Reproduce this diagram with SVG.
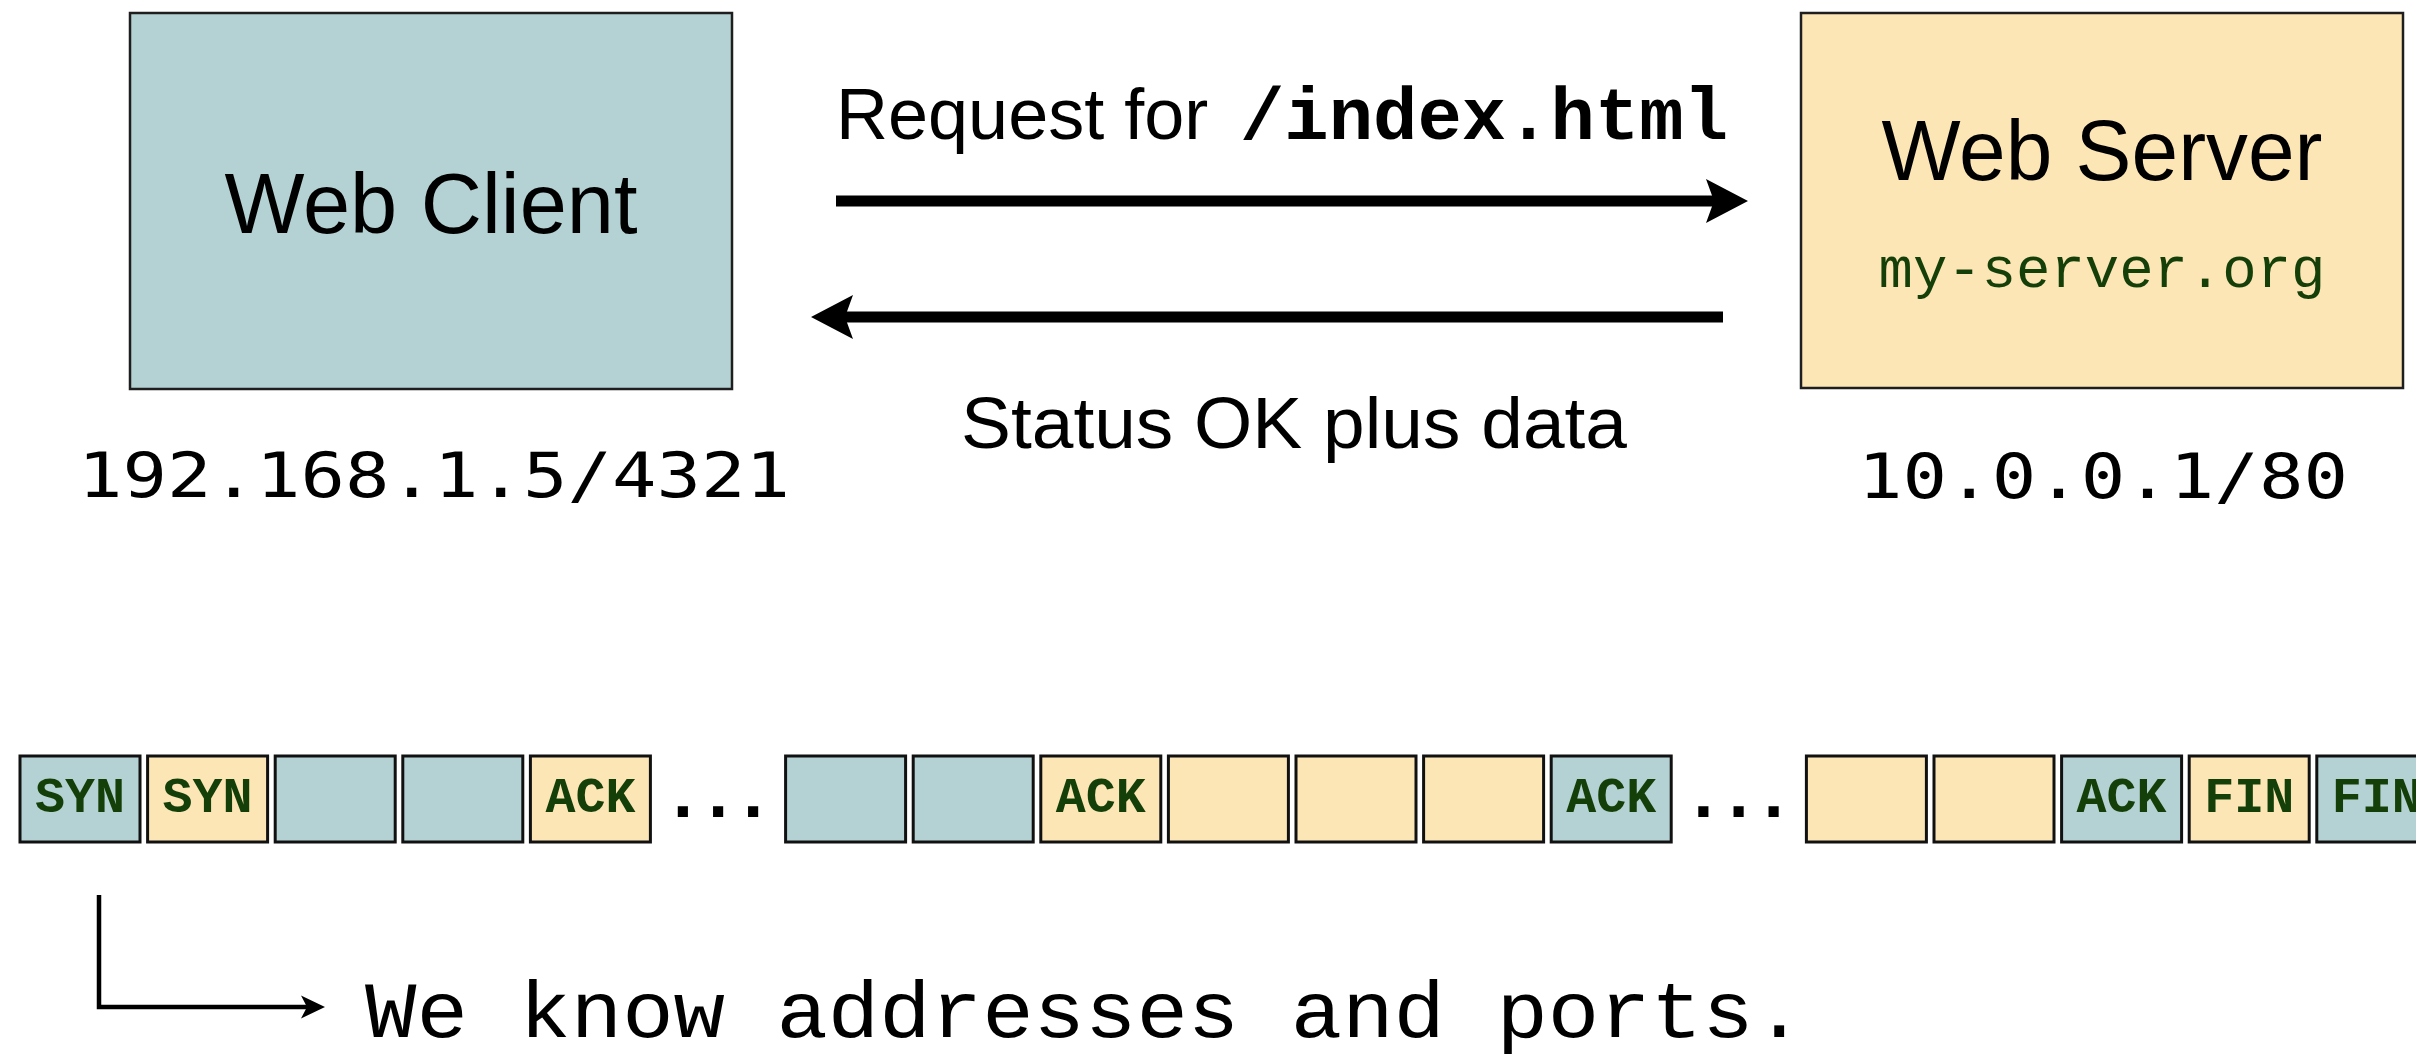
<svg xmlns="http://www.w3.org/2000/svg" width="2416" height="1057" viewBox="0 0 2416 1057">
<style>
  .blue { fill: #b4d2d3; }
  .yellow { fill: #fde6b5; }
  .box { stroke: #1e1e1e; stroke-width: 2.5; }
  .pkt { stroke: #111; stroke-width: 3; }
  .sans { font-family: "Liberation Sans", Arial, sans-serif; fill: #000; }
  .mono { font-family: "DejaVu Sans Mono", monospace; fill: #000; }
  .cour { font-family: "Liberation Mono", "Courier New", monospace; }
  .lbl { font-family: "Liberation Mono", "Courier New", monospace; font-weight: bold; font-size: 50px; fill: #143f08; text-anchor: middle; }
  .dots { font-family: "Liberation Mono", "Courier New", monospace; font-weight: bold; font-size: 72px; letter-spacing: -8px; fill: #000; text-anchor: middle; }
  .conn { stroke: #000; fill: none; }
</style>
<defs>
  <marker id="head" markerUnits="userSpaceOnUse" markerWidth="42" markerHeight="44" viewBox="0 0 42 44" refX="14" refY="22" orient="auto">
    <path d="M0,0 L42,22 L0,44 L8,22 Z" fill="#000"/>
  </marker>
  <marker id="headSmall" markerUnits="userSpaceOnUse" markerWidth="24" markerHeight="24" viewBox="0 0 24 24" refX="8" refY="12" orient="auto">
    <path d="M0,0.5 L24,12 L0,23.5 L6,12 Z" fill="#000"/>
  </marker>
</defs>
<rect width="2416" height="1057" fill="#fff"/>

<g id="web-client">
  <rect class="blue box" x="130" y="13" width="602" height="376"/>
  <text class="sans" x="431" y="233" font-size="86" text-anchor="middle" textLength="413" lengthAdjust="spacingAndGlyphs">Web Client</text>
  <text class="mono" x="434" y="497" font-size="63" text-anchor="middle" textLength="712" lengthAdjust="spacingAndGlyphs">192.168.1.5/4321</text>
</g>

<g id="web-server">
  <rect class="yellow box" x="1801" y="13" width="602" height="375"/>
  <text class="sans" x="2102" y="180" font-size="86" text-anchor="middle" textLength="441" lengthAdjust="spacingAndGlyphs">Web Server</text>
  <text class="cour" x="2102" y="287" font-size="58" fill="#143f08" text-anchor="middle" textLength="447" lengthAdjust="spacingAndGlyphs">my-server.org</text>
  <text class="mono" x="2103" y="498" font-size="63" text-anchor="middle" textLength="490" lengthAdjust="spacingAndGlyphs">10.0.0.1/80</text>
</g>

<g id="connectors">
  <line class="conn" x1="836" y1="201" x2="1720" y2="201" stroke-width="11" marker-end="url(#head)"/>
  <line class="conn" x1="1723" y1="317" x2="839" y2="317" stroke-width="11" marker-end="url(#head)"/>
  <text class="sans" x="836" y="139" font-size="72">Request for <tspan x="1240" font-family="Liberation Mono, Courier New, monospace" font-weight="bold" font-size="74" textLength="488" lengthAdjust="spacingAndGlyphs">/index.html</tspan></text>
  <text class="sans" x="1294" y="448" font-size="72" text-anchor="middle" textLength="666" lengthAdjust="spacingAndGlyphs">Status OK plus data</text>
  <polyline class="conn" points="99,895 99,1007 309,1007" stroke-width="4.5" marker-end="url(#headSmall)"/>
</g>

<g id="packets">
  <g id="p0"><rect class="blue pkt" x="20" y="756" width="120" height="86"/><text class="lbl" x="80" y="812">SYN</text></g>
  <g id="p1"><rect class="yellow pkt" x="147.6" y="756" width="120" height="86"/><text class="lbl" x="207.6" y="812">SYN</text></g>
  <g id="p2"><rect class="blue pkt" x="275.2" y="756" width="120" height="86"/></g>
  <g id="p3"><rect class="blue pkt" x="402.8" y="756" width="120" height="86"/></g>
  <g id="p4"><rect class="yellow pkt" x="530.4" y="756" width="120" height="86"/><text class="lbl" x="590.4" y="812">ACK</text></g>
  <text id="dots1" class="dots" x="714" y="817">...</text>
  <g id="p6"><rect class="blue pkt" x="785.6" y="756" width="120" height="86"/></g>
  <g id="p7"><rect class="blue pkt" x="913.2" y="756" width="120" height="86"/></g>
  <g id="p8"><rect class="yellow pkt" x="1040.8" y="756" width="120" height="86"/><text class="lbl" x="1100.8" y="812">ACK</text></g>
  <g id="p9"><rect class="yellow pkt" x="1168.4" y="756" width="120" height="86"/></g>
  <g id="p10"><rect class="yellow pkt" x="1296" y="756" width="120" height="86"/></g>
  <g id="p11"><rect class="yellow pkt" x="1423.6" y="756" width="120" height="86"/></g>
  <g id="p12"><rect class="blue pkt" x="1551.2" y="756" width="120" height="86"/><text class="lbl" x="1611.2" y="812">ACK</text></g>
  <text id="dots2" class="dots" x="1734.5" y="817">...</text>
  <g id="p14"><rect class="yellow pkt" x="1806.4" y="756" width="120" height="86"/></g>
  <g id="p15"><rect class="yellow pkt" x="1934" y="756" width="120" height="86"/></g>
  <g id="p16"><rect class="blue pkt" x="2061.6" y="756" width="120" height="86"/><text class="lbl" x="2121.6" y="812">ACK</text></g>
  <g id="p17"><rect class="yellow pkt" x="2189.2" y="756" width="120" height="86"/><text class="lbl" x="2249.2" y="812">FIN</text></g>
  <g id="p18"><rect class="blue pkt" x="2316.8" y="756" width="120" height="86"/><text class="lbl" x="2376.8" y="812">FIN</text></g>
</g>

<g id="note">
  <text class="cour" x="365" y="1037" font-size="80" fill="#000" textLength="1440" lengthAdjust="spacingAndGlyphs">We know addresses and ports.</text>
</g>
</svg>
